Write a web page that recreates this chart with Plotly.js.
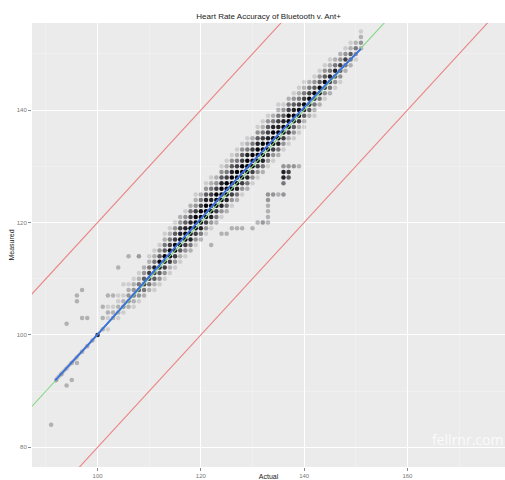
<!DOCTYPE html>
<html>
<head>
<meta charset="utf-8">
<script src="https://cdn.plot.ly/plotly-3.0.1.min.js"></script>
<style>html,body{margin:0;padding:0;background:#fff;}#chart{width:505px;height:480px;}</style>
</head>
<body>
<div id="chart"></div>
<script>
// ---- data ----
// Density rows: each row = [actual, first measured value, shade digits for measured = first, first+1, ...]
// (digit 0 = no point, 1..9 = increasing darkness from overlapping points)
const bandRows = [
  [92, 88, "000020000000"], [93, 89, "000020000000"], [94, 90, "000010000000"],
  [95, 91, "000020000000"], [96, 92, "000010000000"], [97, 93, "000020000000"],
  [98, 94, "000020000000"], [99, 95, "000020000000"], [100, 96, "000070000000"],
  [101, 97, "000020200000"], [102, 98, "000101210000"], [103, 99, "000022100000"],
  [104, 100, "000122110000"], [105, 101, "000132101000"], [106, 102, "000233210000"],
  [107, 103, "001243210000"], [108, 104, "001354210010"], [109, 105, "002465320000"],
  [110, 106, "002466421000"], [111, 107, "012567421000"], [112, 108, "013578531000"],
  [113, 109, "013678542100"], [114, 110, "012689642100"], [115, 111, "013689653100"],
  [116, 112, "012589763200"], [117, 113, "013689753100"], [118, 114, "024789764200"],
  [119, 115, "013689863210"], [120, 116, "024789864200"], [121, 117, "013689875310"],
  [122, 118, "013789764210"], [123, 119, "024689863200"], [124, 120, "013789875310"],
  [125, 121, "024789864210"], [126, 122, "013689875310"], [127, 123, "024789864210"],
  [128, 124, "013689865310"], [129, 125, "024789874210"], [130, 126, "013689864200"],
  [131, 127, "013689875310"], [132, 128, "024789864210"], [133, 129, "013689765310"],
  [134, 130, "013689874200"], [135, 131, "024789764210"], [136, 132, "013689753100"],
  [137, 133, "012689864200"], [138, 134, "013579753100"], [139, 135, "012689642100"],
  [140, 136, "012578642100"], [141, 137, "002579642000"], [142, 138, "012468531000"],
  [143, 139, "002479531000"], [144, 140, "001368531000"], [145, 141, "002467421000"],
  [146, 142, "001357420000"], [147, 143, "001356320000"], [148, 144, "000246310000"],
  [149, 145, "000245210000"], [150, 146, "000134200000"], [151, 147, "000023210000"]
];

// Scattered points away from the main band
const outActual   = [91, 94, 95, 94, 96, 96, 96, 97, 97, 98, 103, 104, 106, 108, 101, 102,
                     136, 137, 138, 139, 136, 137, 136, 137, 136, 133, 134, 135, 136,
                     133, 133, 133, 133, 131, 132, 133, 128, 130, 124, 125, 126, 127, 122];
const outMeasured = [84, 102, 92, 91, 95, 106, 107, 108, 103, 103, 107, 112, 114, 114, 105, 107,
                     130, 130, 130, 130, 129, 129, 128, 128, 127, 125, 125, 125, 125,
                     124, 123, 122, 121, 120, 120, 120, 119, 119, 118, 118, 119, 119, 116];
const outShade    = [2, 2, 2, 2, 2, 2, 2, 2, 2, 2, 2, 2, 2, 2, 2, 2,
                     3, 3, 3, 2, 7, 6, 7, 5, 4, 3, 3, 2, 3,
                     3, 2, 2, 2, 2, 3, 2, 2, 2, 2, 2, 2, 2, 2];

// Smoothed fit (loess) and its confidence band
const fitActual   = [91.8, 95, 100, 105, 110, 115, 120, 125, 130, 135, 140, 145, 151];
const fitMeasured = [91.9, 95.1, 100.1, 105.2, 110.4, 115.6, 120.7, 125.8, 130.8, 135.7, 140.5, 145.3, 150.9];
const fitHalfWidth = [0.6, 0.4, 0.25, 0.2, 0.15, 0.12, 0.1, 0.1, 0.1, 0.1, 0.12, 0.15, 0.3];

// Reference lines: identity and +/- 20 bpm
const refActual = [60, 200];
const refOffset = 20;

// ---- build traces ----
const ptX = [], ptY = [], ptO = [];
bandRows.forEach(([a, m0, s]) => {
  for (let i = 0; i < s.length; i++) {
    const lv = +s[i];
    if (lv > 0) { ptX.push(a); ptY.push(m0 + i); ptO.push(Math.min(1, lv / 8)); }
  }
});
outActual.forEach((a, i) => { ptX.push(a); ptY.push(outMeasured[i]); ptO.push(Math.min(1, outShade[i] / 8)); });

const upperFit = fitMeasured.map((v, i) => v + fitHalfWidth[i]);
const lowerFit = fitMeasured.map((v, i) => v - fitHalfWidth[i]);

const FONT = 'Liberation Sans, Arial, sans-serif';

const traces = [
  { x: ptX, y: ptY, mode: 'markers', type: 'scatter', hoverinfo: 'skip',
    marker: { color: '#05050D', size: 4.5, opacity: ptO, line: { width: 0 } } },
  { x: refActual, y: refActual.map(v => v + refOffset), mode: 'lines', type: 'scatter',
    line: { color: '#EA8585', width: 1.1 } },
  { x: refActual, y: refActual.map(v => v - refOffset), mode: 'lines', type: 'scatter',
    line: { color: '#EA8585', width: 1.1 } },
  { x: refActual, y: refActual, mode: 'lines', type: 'scatter',
    line: { color: '#86D686', width: 1.1 } },
  { x: fitActual.concat(fitActual.slice().reverse()),
    y: upperFit.concat(lowerFit.slice().reverse()),
    fill: 'toself', mode: 'lines', type: 'scatter', line: { width: 0 },
    fillcolor: 'rgba(153,153,153,0.45)' },
  { x: fitActual, y: fitMeasured, mode: 'lines', type: 'scatter',
    line: { color: '#3A6FE0', width: 1.8, shape: 'spline' } }
];

const axisCommon = {
  showgrid: true, gridcolor: '#FFFFFF', gridwidth: 1,
  zeroline: false, showline: false,
  ticks: 'outside', ticklen: 3, tickcolor: '#8A8A8A', tickwidth: 1,
  tickfont: { family: FONT, size: 6, color: '#777777' },
  minor: { dtick: 10, showgrid: true, gridcolor: '#F4F4F4', gridwidth: 0.6 }
};

const layout = {
  width: 505, height: 480,
  margin: { l: 32, r: 0, t: 23, b: 13, pad: 0 },
  paper_bgcolor: '#FFFFFF', plot_bgcolor: '#EBEBEB',
  showlegend: false,
  font: { family: FONT, color: '#222222' },
  title: { text: 'Heart Rate Accuracy of Bluetooth v. Ant+', x: 0.532, xanchor: 'center',
           y: 0.967, yanchor: 'middle',
           font: { family: FONT, size: 8, color: '#222222' } },
  xaxis: Object.assign({}, axisCommon, {
    range: [87.3, 178.9], tickmode: 'array', tickvals: [100, 120, 140, 160],
    title: { text: 'Actual', standoff: 2, font: { family: FONT, size: 7, color: '#222222' } }
  }),
  yaxis: Object.assign({}, axisCommon, {
    range: [76.5, 155.5], tickmode: 'array', tickvals: [80, 100, 120, 140],
    title: { text: 'Measured', standoff: 1, font: { family: FONT, size: 7, color: '#222222' } }
  }),
  annotations: [
    { text: 'fellrnr.com', xref: 'paper', yref: 'paper', x: 1, y: 0.063,
      xanchor: 'right', yanchor: 'middle', showarrow: false,
      font: { family: 'Open Sans, sans-serif', size: 14, color: 'rgba(255,255,255,0.8)' } }
  ]
};

Plotly.newPlot('chart', traces, layout, { displayModeBar: false, staticPlot: true });
</script>
</body>
</html>
